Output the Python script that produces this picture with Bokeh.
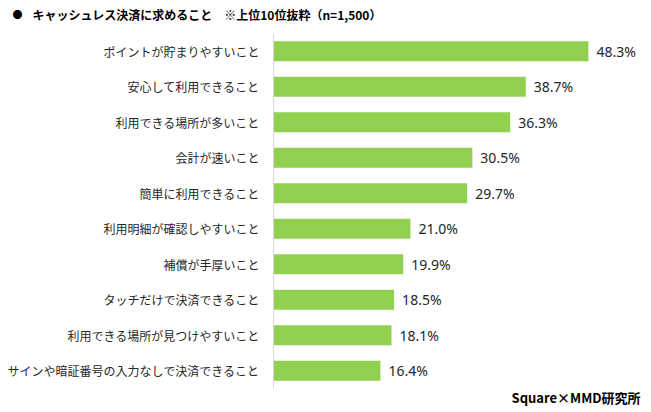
from bokeh.plotting import figure
from bokeh.models import Range1d, ColumnDataSource
from bokeh.core.properties import value
from bokeh.embed import file_html
from bokeh.resources import INLINE

categories = [
    "ポイントが貯まりやすいこと",
    "安心して利用できること",
    "利用できる場所が多いこと",
    "会計が速いこと",
    "簡単に利用できること",
    "利用明細が確認しやすいこと",
    "補償が手厚いこと",
    "タッチだけで決済できること",
    "利用できる場所が見つけやすいこと",
    "サインや暗証番号の入力なしで決済できること",
]
values = [48.3, 38.7, 36.3, 30.5, 29.7, 21.0, 19.9, 18.5, 18.1, 16.4]
title_text = "キャッシュレス決済に求めること　※上位10位抜粋（n=1,500）"
source_text = "Square×MMD研究所"

JP = "Noto Sans CJK JP"
W, H = 645, 406
PX_X = 6.52       # pixels per percent
PX_Y = 35.5       # pixels per category
X0 = 273          # screen x of the value 0
Y0 = 33           # screen y of the top of the category band

pos = list(range(len(categories)))
src = ColumnDataSource(dict(y=pos, v=values, cat=categories,
                            zero=[0] * len(values),
                            lab=[f"{v:.1f}%" for v in values]))

x_lo = -X0 / PX_X
x_hi = (W - X0) / PX_X
y_top = -0.5 - Y0 / PX_Y
y_bot = -0.5 + (H - Y0) / PX_Y

p = figure(width=W, height=H, output_backend="svg", toolbar_location=None,
           x_range=Range1d(x_lo, x_hi), y_range=Range1d(y_bot, y_top),
           min_border=0)
p.outline_line_color = None
p.xgrid.visible = False
p.ygrid.visible = False
p.xaxis.visible = False
p.yaxis.visible = False

p.hbar(y="y", right="v", left=0, height=0.56, source=src, color="#92D050", line_color=None)
# axis line
p.segment(x0=[0], y0=[-0.5], x1=[0], y1=[len(categories) - 0.5],
          line_color="#d9d9d9", line_width=1)

p.text(x="v", y="y", text="lab", source=src, x_offset=8, text_baseline="middle",
       text_align="left", text_font=value("Noto Sans"), text_font_size="14px",
       text_color="#262626")
p.text(x="zero", y="y", text="cat", source=src, x_offset=-14, text_baseline="middle",
       text_align="right", text_font=value(JP), text_font_size="12px", text_color="#262626")

p.text(x=[x_lo + 12 / PX_X], y=[y_top + 14 / PX_Y], text=["●"], text_font=value(JP),
       text_font_size="10px", text_baseline="middle", text_color="#000000")
p.text(x=[x_lo + 32 / PX_X], y=[y_top + 14 / PX_Y], text=[title_text], text_font=value(JP),
       text_font_size="12px", text_font_style="bold", text_baseline="middle",
       text_color="#000000")
p.text(x=[x_lo + 640 / PX_X], y=[y_top + 397 / PX_Y], text=[source_text], text_font=value(JP),
       text_font_size="13px", text_font_style="bold", text_baseline="middle",
       text_align="right", text_color="#000000")

open("out.html", "w").write(file_html(p, INLINE))
